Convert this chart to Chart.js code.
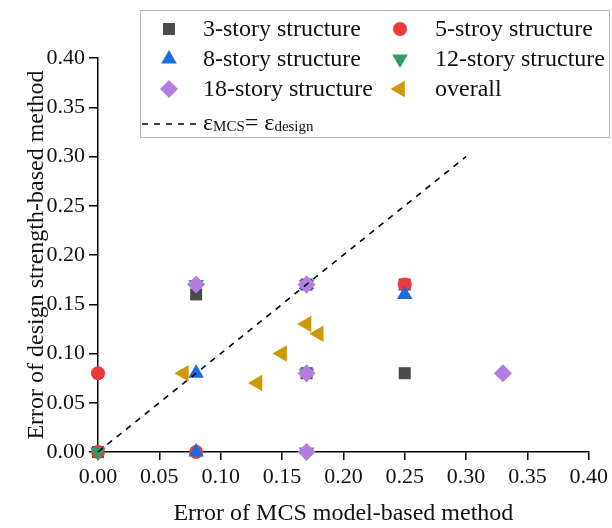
<!DOCTYPE html>
<html>
<head>
<meta charset="utf-8">
<script src="https://cdn.jsdelivr.net/npm/chart.js@4"></script>
<style>
  html, body { margin: 0; padding: 0; background: #fff; }
  #wrap { width: 612px; height: 528px; position: relative; }
</style>
</head>
<body>
<div id="wrap"><canvas id="scatter"></canvas></div>
<script>
// error pairs: [MCS model-based, design strength-based]
const story3 = [[0, 0], [0.08, 0.16], [0.17, 0.17], [0.17, 0.08], [0.25, 0.17], [0.25, 0.08]];
const story5 = [[0, 0.08], [0, 0], [0.08, 0], [0.25, 0.17]];
const story8 = [[0.08, 0.08], [0.08, 0], [0.17, 0.17], [0.25, 0.16]];
const story12 = [[0, 0], [0.08, 0.17], [0.17, 0.17], [0.17, 0.08], [0.17, 0]];
const story18 = [[0.08, 0.17], [0.17, 0.17], [0.17, 0.08], [0.17, 0], [0.33, 0.08]];
const overall = [[0.07, 0.08], [0.13, 0.07], [0.15, 0.10], [0.17, 0.13], [0.18, 0.12]];
const refLine = [[0, 0], [0.30, 0.30]];
const xTicks = [0, 0.05, 0.10, 0.15, 0.20, 0.25, 0.30, 0.35, 0.40];
const yTicks = [0, 0.05, 0.10, 0.15, 0.20, 0.25, 0.30, 0.35, 0.40];

const FONT = "'Liberation Serif', 'Times New Roman', serif";
const toXY = arr => arr.map(p => ({ x: p[0], y: p[1] }));

const series = [
  { label: "3-story structure", data: story3, color: "#4b4b4b", style: "rect", radius: 8.5, rot: 0, order: 6 },
  { label: "5-stroy structure", data: story5, color: "#ee3a3c", style: "circle", radius: 7, rot: 0, order: 5 },
  { label: "8-story structure", data: story8, color: "#1b6ce0", style: "triangle", radius: 9, rot: 0, order: 4 },
  { label: "12-story structure", data: story12, color: "#2e9e62", style: "triangle", radius: 9, rot: 180, order: 3 },
  { label: "18-story structure", data: story18, color: "#b47ee0", style: "rectRot", radius: 9, rot: 0, order: 2 },
  { label: "overall", data: overall, color: "#cc9a06", style: "triangle", radius: 9.5, rot: -90, order: 1 },
];

const datasets = series.map(s => ({
  label: s.label,
  data: toXY(s.data),
  pointStyle: s.style,
  pointRadius: s.radius,
  pointRotation: s.rot,
  pointBackgroundColor: s.color,
  pointBorderWidth: 0,
  pointBorderColor: s.color,
  showLine: false,
  clip: false,
  order: s.order,
}));

datasets.push({
  label: "ref",
  data: toXY(refLine),
  showLine: true,
  borderColor: "#000",
  borderWidth: 1.6,
  borderDash: [6, 6],
  pointRadius: 0,
  clip: false,
  order: 0,
});

// two-column legend box drawn on top of the plot
const legendBox = {
  id: "legendBox",
  afterDraw(chart) {
    const ctx = chart.ctx;
    ctx.save();
    ctx.strokeStyle = "#b5b5b5";
    ctx.lineWidth = 1;
    ctx.fillStyle = "#fff";
    ctx.fillRect(140.5, 10.5, 469, 127);
    ctx.strokeRect(140.5, 10.5, 469, 127);
    ctx.font = "24px " + FONT;
    ctx.textBaseline = "middle";
    const colX = [[169, 203], [400, 435]];
    const rowY = [29, 59, 89];
    series.forEach((s, i) => {
      const col = i % 2, row = Math.floor(i / 2);
      const mx = colX[col][0], y = rowY[row];
      ctx.fillStyle = s.color;
      Chart.helpers.drawPoint(ctx, { pointStyle: s.style, radius: s.radius, rotation: s.rot, borderWidth: 0 }, mx, y);
      ctx.fillStyle = "#111";
      ctx.fillText(s.label, colX[col][1], y + 1);
    });
    // dashed reference entry
    ctx.strokeStyle = "#000";
    ctx.lineWidth = 1.6;
    ctx.setLineDash([6, 6]);
    ctx.beginPath();
    ctx.moveTo(142, 124);
    ctx.lineTo(196, 124);
    ctx.stroke();
    ctx.setLineDash([]);
    let x = 203;
    const big = "24px " + FONT, small = "15px " + FONT;
    const parts = [["ε", big, 0], ["MCS", small, 3], ["= ", big, 0], ["ε", big, 0], ["design", small, 3]];
    parts.forEach(p => {
      ctx.font = p[1];
      ctx.fillText(p[0], x, 124 + p[2]);
      x += ctx.measureText(p[0]).width;
    });
    ctx.restore();
  }
};

const tickStyle = {
  color: "#111",
  font: { family: FONT, size: 22 },
  padding: 4,
};

new Chart(document.getElementById("scatter"), {
  type: "scatter",
  data: { datasets },
  options: {
    responsive: true,
    maintainAspectRatio: false,
    animation: false,
    layout: { padding: { top: 58, right: 22, left: 0, bottom: 0 } },
    plugins: { legend: { display: false }, tooltip: { enabled: false } },
    scales: {
      x: {
        type: "linear",
        min: 0, max: 0.40,
        afterBuildTicks: axis => { axis.ticks = xTicks.map(v => ({ value: v })); },
        afterFit: axis => { axis.height = 76; },
        ticks: { ...tickStyle, callback: v => v.toFixed(2), maxRotation: 0 },
        grid: { drawOnChartArea: false, drawTicks: true, tickLength: 8, color: "#000", lineWidth: 1.5 },
        border: { color: "#000", width: 1.5 },
        title: { display: true, text: "Error of MCS model-based method", color: "#111", font: { family: FONT, size: 24 }, padding: { top: 18, bottom: 0 } },
      },
      y: {
        type: "linear",
        min: 0, max: 0.40,
        afterBuildTicks: axis => { axis.ticks = yTicks.map(v => ({ value: v })); },
        afterFit: axis => { axis.width = 98; },
        ticks: { ...tickStyle, callback: v => v.toFixed(2) },
        grid: { drawOnChartArea: false, drawTicks: true, tickLength: 9, color: "#000", lineWidth: 1.5 },
        border: { color: "#000", width: 1.5 },
        title: { display: true, text: "Error of design strength-based method", color: "#111", font: { family: FONT, size: 24 }, padding: { top: 22, bottom: 0 } },
      },
    },
  },
  plugins: [legendBox],
});
</script>
</body>
</html>
